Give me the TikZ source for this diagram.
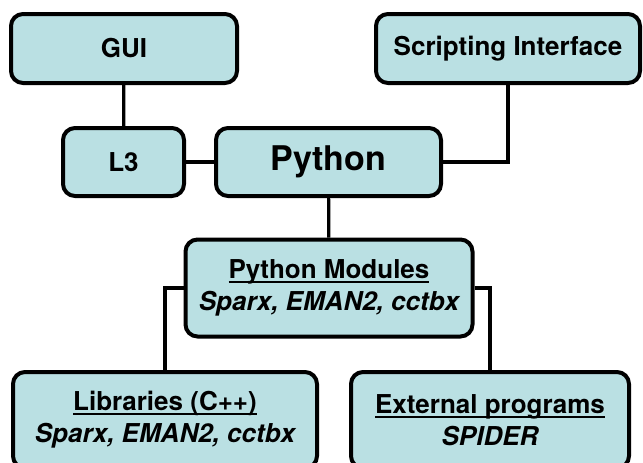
\documentclass[tikz,border=0pt]{standalone}
\usepackage{fontspec}
\setmainfont{TeX Gyre Heros}
\usetikzlibrary{shapes,arrows}
\definecolor{boxfill}{RGB}{186,224,227}
\newcommand{\ulabel}[1]{\setbox0\hbox{#1}\rlap{\rule[-2.2pt]{\wd0}{1pt}}\box0}

\begin{document}
\begin{tikzpicture}[x=0.5pt,y=-0.5pt,
	box/.style={draw=black, fill=boxfill, line width=2pt, rounded corners=6pt, align=center, inner sep=0pt, font=\fontsize{13}{16}\selectfont\bfseries},
	link/.style={line width=1.6pt}]
	\useasboundingbox (0,0) rectangle (643,462);
	%top row
	\node[box, minimum width=113pt, minimum height=34.5pt] (gui) at (124,48.5) {GUI};
	\node[box, minimum width=132pt, minimum height=34.5pt] (script) at (508,48.5) {Scripting Interface};
	%middle row
	\node[box, minimum width=60.5pt, minimum height=34pt] (l3) at (123.5,162) {L3};
	\node[box, minimum width=112.5pt, minimum height=34pt, font=\fontsize{17}{20}\selectfont\bfseries] (python) at (328.5,162) {Python};
	%modules
	\node[box, minimum width=143.5pt, minimum height=48.5pt] (modules) at (329,288) {\ulabel{Python Modules}\\\itshape Sparx, EMAN2, cctbx};
	%bottom row
	\node[box, minimum width=152pt, minimum height=48pt] (libs) at (165,420) {\ulabel{Libraries (C++)}\\\itshape Sparx, EMAN2, cctbx};
	\node[box, minimum width=139pt, minimum height=48pt] (ext) at (490,420) {\ulabel{External programs}\\\itshape SPIDER};

	%links
	\draw[link] (gui) -- (l3);
	\draw[link] (l3) -- (python);
	\draw[link] (script.south) |- (python.east);
	\draw[link] (python) -- (modules);
	\draw[link] (modules.west) -| (libs.north);
	\draw[link] (modules.east) -| (ext.north);
\end{tikzpicture}
\end{document}
